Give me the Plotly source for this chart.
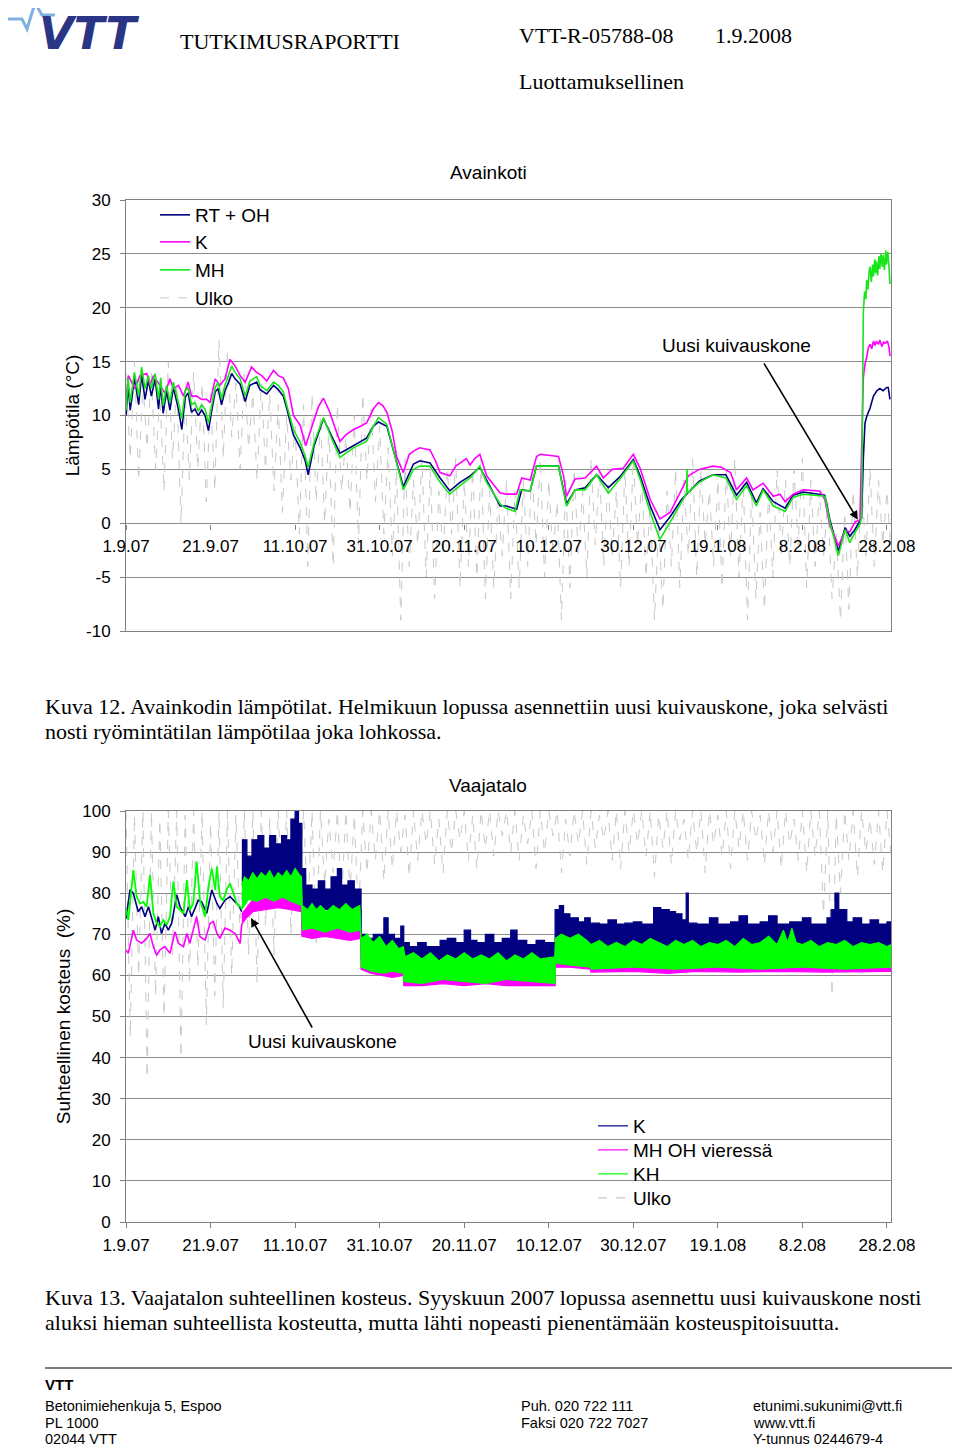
import plotly.graph_objects as go

# page is shown with the browser's 8px body margin: positions are shifted by that offset
OFF = 8
W, H = 960, 1446
def px(x): return (x - OFF) / W
def py(y): return 1 - (y - OFF) / H

SANS = "Liberation Sans, Arial, sans-serif"
SERIF = "Liberation Serif, Times New Roman, serif"

# ---------------- shared x axis (days since 1.9.2007) ----------------
tick_days = [0, 20, 40, 60, 80, 100, 120, 140, 160, 180]
tick_labels = ["1.9.07", "21.9.07", "11.10.07", "31.10.07", "20.11.07",
               "10.12.07", "30.12.07", "19.1.08", "8.2.08", "28.2.08"]
temp_ticks = [-10, -5, 0, 5, 10, 15, 20, 25, 30]
temp_tick_text = ["-10", "-5", "0", "5", "10", "15", "20", "25", "30"]

# ---------------- Chart 1: Avainkoti temperatures ----------------
rt_days = [0, 0.5, 1, 2, 3, 3.7, 4.5, 5.3, 6, 6.9, 7.7, 8.2, 8.8, 9.6, 10.4, 11.2, 12.4, 13.2, 14, 14.7,
           15.5, 16.3, 17.1, 17.9, 18.7, 19.5, 20.3, 21.1, 21.8, 22.6, 23.4, 24.2, 25, 25.8, 27, 28.2,
           29.3, 30.9, 31.7, 33.3, 34.9, 36, 37.2, 38, 39.6, 41.2, 42.4, 43.1, 44.5, 46.7, 48.5, 50.6,
           52, 53.8, 56.9, 58.5, 59.7, 61.7, 64, 65.6, 68, 69.5, 71.9, 74.3, 76.6, 79, 81.4, 83.7, 85.3,
           88.5, 90, 92.4, 93.6, 95.6, 97.1, 102.3, 104.2, 106.2, 108.6, 111.3, 114.1, 116.8, 120, 121.6,
           124, 126.3, 128.7, 131.4, 135.6, 138.8, 141.9, 144.4, 146.8, 149.1, 150.7, 153.1, 155.9, 157.8,
           160.2, 165.3, 166.5, 168.5, 170.1, 171.2, 172.4, 173.6, 174.0, 174.4, 174.8, 175.2, 176.0,
           176.8, 177.6, 178.3, 179.1, 179.9, 180.3, 180.7]
rt_vals = [10, 12.8, 10.5, 13.5, 11.0, 13.8, 11.5, 13.3, 11.8, 13.4, 10.6, 12.8, 10.2, 12.3, 10.5, 12.6, 10.6, 8.7, 11.7, 12.1,
           10.3, 10.6, 10.0, 10.5, 10.0, 8.6, 10.5, 12.2, 12.5, 11.0, 12.3, 13.0, 13.9, 13.4, 12.9, 11.3,
           12.8, 13.1, 12.4, 12.0, 12.8, 12.4, 11.8, 10.7, 8.2, 7.0, 5.8, 4.5, 7.2, 9.7, 8.2, 6.5,
           6.8, 7.2, 7.9, 9.0, 9.4, 9.0, 5.8, 3.4, 5.5, 5.8, 5.6, 4.2, 3.0, 3.8, 4.4, 5.2, 4.0,
           1.6, 1.6, 1.3, 3.1, 3.0, 5.3, 5.3, 1.8, 3.1, 3.3, 4.5, 3.3, 4.3, 5.9, 4.4,
           1.6, -0.6, 0.6, 2.2, 3.9, 4.5, 4.5, 2.6, 3.8, 1.9, 3.2, 2.0, 1.4, 2.6,
           2.9, 2.6, 0.3, -2.6, -0.4, -1.2, -0.6, 0.2, 0.5, 6.0, 9.3, 9.9, 10.7,
           11.8, 12.3, 12.5, 12.3, 12.6, 12.6, 11.5]

k_days = [0, 0.55, 2.1, 3.3, 4.9, 5.7, 6.5, 8, 9.2, 10.4, 11.2, 12.4, 13.6, 14.7, 15.5, 16.7, 17.9, 19.1,
          19.9, 21.1, 22.2, 23.4, 24.6, 25.8, 27, 28.2, 29.7, 30.9, 32.1, 33.3, 34.9, 36, 37.2, 38.4, 39.6,
          41.2, 42.5, 44, 45.5, 46.7, 48, 49.5, 50.6, 52, 53.8, 55.5, 56.9, 58.5, 59.7, 60.8, 61.7, 63, 64,
          65.6, 67, 68, 69.5, 71.9, 73.2, 74.3, 76.6, 78, 79, 80.5, 81.4, 82.5, 83.7, 85.3, 86.5, 88.5, 90,
          92.4, 93.6, 95.6, 97.1, 98, 102.3, 103.5, 104.2, 106.2, 108.6, 111.3, 112.9, 115, 117.6, 120, 121.6,
          124, 126.3, 128.7, 131.4, 133, 135.6, 138.8, 140.8, 143, 144.4, 146.8, 148.3, 150.7, 153.1, 154.7,
          155.9, 157.8, 160.2, 164.1, 165.3, 166.5, 168.5, 170.1, 171.2, 172.4, 173.6, 174.0, 174.4, 174.8,
          175.2, 175.6, 176, 176.4, 176.8, 177.2, 177.5, 178, 178.3, 178.8, 179.2, 179.6, 180.1, 180.5, 180.7]
k_vals = [11.5, 13.7, 12.5, 13.7, 13.9, 12.8, 13.7, 12.8, 12.1, 13.4, 12.5, 12.8, 11.8, 13.1, 11.8, 11.8, 11.5, 11.5,
          11.2, 13.4, 12.8, 13.4, 15.2, 14.6, 13.7, 13.1, 14.5, 14.0, 13.7, 13.2, 14.2, 13.7, 13.5, 12.5, 10.0,
          9.1, 7.2, 9.0, 10.8, 11.6, 10.5, 8.8, 7.6, 8.2, 8.7, 9.0, 9.3, 10.6, 11.2, 10.9, 10.3, 8.5, 6.2,
          4.7, 6.4, 6.7, 7.0, 6.8, 5.8, 4.7, 4.4, 5.3, 5.6, 6.0, 5.4, 6.0, 6.4, 4.4, 3.8, 2.8, 2.7,
          2.7, 4.2, 4.0, 6.2, 6.4, 6.2, 4.4, 2.5, 4.1, 4.2, 5.3, 4.2, 5.0, 5.1, 6.4, 5.1,
          2.2, 0.4, 1.0, 3.1, 4.4, 5.0, 5.3, 5.2, 4.7, 3.1, 4.2, 3.1, 3.7, 2.5, 2.7,
          2.0, 2.7, 3.1, 3.0, 2.2, -0.2, -2.1, -0.7, -0.8, 0.1, 0.3, 8.0, 13.5, 14.8,
          15.4, 16.3, 16.6, 16.2, 16.9, 16.5, 16.9, 16.6, 17.0, 16.4, 16.8, 16.7, 16.9, 16.3, 15.5]

mh_days = [0, 0.5, 1, 2, 3, 3.7, 4.5, 5.3, 6, 6.9, 7.7, 8.2, 8.8, 9.6, 10.4, 11.2, 12.4, 13.2, 14, 14.7,
           15.5, 16.3, 17.1, 17.9, 18.7, 19.5, 20.3, 21.1, 21.8, 22.6, 23.4, 24.2, 25, 25.8, 27, 28.2,
           29.3, 30.9, 31.7, 33.3, 34.9, 36, 37.2, 38, 39.6, 41.2, 42.4, 43.1, 44.5, 46.7, 48.5, 50.6,
           52, 53.8, 56.9, 58.5, 59.7, 61.7, 64, 65.6, 68, 69.5, 71.9, 74.3, 76.6, 79, 81.4, 83.7, 85.3,
           88.5, 89.6, 92, 93.2, 95.6, 97.1, 102.3, 104.2, 106.2, 108.6, 111.3, 114.1, 116.8, 120, 121.6,
           124, 126.3, 128.7, 131.4, 132.6, 132.7, 132.8, 135.6, 138.8, 141.9, 144.4, 146.8, 149.1, 150.7,
           153.1, 155.9, 157.8, 160.2, 165.3, 166.5, 168.5, 170.1, 171.2, 172.4, 173.6, 174.0, 174.4, 174.7,
           175.0, 175.2, 175.5, 175.8, 176, 176.3, 176.6, 176.8, 177.1, 177.3, 177.5, 177.8, 178.1, 178.3,
           178.6, 178.9, 179.1, 179.4, 179.7, 179.9, 180.2, 180.5, 180.7]
mh_vals = [10.5, 13.5, 11.2, 14.0, 11.8, 14.5, 12.5, 13.7, 12.5, 13.9, 11.5, 13.5, 10.9, 12.8, 11.2, 13.1, 11.2, 9.7, 12.3, 12.6,
           11.0, 11.2, 10.4, 11.0, 10.6, 9.3, 11.0, 12.6, 13.1, 11.5, 12.8, 13.7, 14.6, 14.0, 13.4, 11.8,
           13.2, 13.6, 12.8, 12.3, 13.1, 12.8, 12.2, 11.0, 8.7, 7.5, 6.2, 5.2, 7.5, 9.8, 8.0, 6.1,
           6.5, 7.0, 7.6, 9.0, 9.8, 9.2, 5.6, 3.1, 5.0, 5.3, 5.3, 3.8, 2.7, 3.5, 4.2, 5.3, 3.8,
           1.8, 1.45, 1.1, 3.1, 3.0, 5.3, 5.3, 1.6, 3.1, 3.1, 4.5, 2.8, 4.1, 5.8, 4.1,
           1.0, -1.5, 0.1, 1.9, 2.8, 5.0, 2.8, 3.8, 4.5, 4.2, 2.2, 3.5, 1.6, 3.1,
           1.6, 1.1, 2.4, 2.7, 2.5, 0.1, -3.0, -0.6, -1.8, -0.9, -0.1, 0.5, 19.5, 21.5,
           20.8, 22.6, 21.7, 23.5, 23.8, 22.4, 24.0, 22.9, 24.5, 23.2, 24.3, 23.0, 24.8, 23.6,
           25.0, 23.8, 24.9, 23.5, 25.3, 24.0, 25.2, 23.7, 22.2]

# outdoor temperature: daily maximum / minimum for every second day
ulko_t_max = [14, 15, 13, 14, 12, 15, 13, 12, 14, 13, 12, 17, 16, 13, 14, 12,
              13, 12, 11, 10, 9, 11, 12, 10, 9, 11, 8, 10, 12, 11, 9,
              7, 5, 6, 4, 6, 5, 3, 5, 6, 4, 5, 6, 3, 2, 4,
              3, 4, 5, 6, 4, 2, 4, 5, 3, 6, 5, 4, 3, 5, 6,
              4, 2, 0, 3, 5, 4, 6, 5, 3, 4, 5, 6, 4, 3, 1,
              3, 5, 4, 5, 6, 4, 3, 2, -1, 1, 3, 4, 5, 4, 3]
ulko_t_min = [6, 4, 7, 5, 3, 6, 0, 4, 5, 2, 3, 6, 8, 5, 7, 4,
              5, 3, 1, 4, -1, -4, 2, 0, -4, 3, 1, -2, 4, 2, -1,
              -3, -9, -4, -2, -5, -7, -3, -1, -6, -4, -5, -7, -6, -3, -7,
              -6, -4, -2, -5, -3, -9, -6, -3, -5, -2, -4, -3, -6, -4, -2,
              -5, -9, -8, -4, -6, -3, -5, -2, -4, -6, -3, -5, -9, -7, -8,
              -5, -3, -4, -2, -6, -4, -3, -7, -9, -8, -5, -3, -4, -2, -3]

# ---------------- Chart 2: Vaajatalo relative humidity ----------------
# September: single lines
k2_sep_days = [0, 0.95, 1.73, 2.9, 3.7, 4.5, 5.3, 6.1, 6.9, 7.65, 8.4, 9.2, 10.0, 10.8, 12.0, 12.8, 14.0, 14.8,
               15.5, 17.1, 17.9, 19.1, 20.3, 21.5, 22.2, 23.4, 24.6, 25.8, 26.6, 27.4]
k2_sep_vals = [73.8, 80.8, 80.0, 75.5, 76.7, 74.3, 76.7, 73.5, 71.0, 74.3, 70.2, 72.7, 71.0, 72.7, 79.6, 76.7, 74.3, 76.7,
               74.3, 78.3, 77.9, 75.1, 80.8, 77.5, 76.3, 78.3, 79.2, 77.9, 77.1, 75.5]
mh2_sep_days = [0, 0.55, 1.73, 2.52, 3.7, 4.89, 5.68, 6.47, 7.25, 8.04, 9.2, 10.4, 11.6, 12.4, 13.6, 14.4, 15.1,
                16.7, 17.5, 18.7, 19.9, 20.7, 21.5, 22.2, 23.4, 24.6, 25.8, 27.0, 27.4]
mh2_sep_vals = [66.2, 65.4, 71.0, 68.6, 67.8, 69.0, 70.2, 67.0, 64.9, 66.2, 67.0, 65.4, 70.6, 67.8, 67.0, 70.2, 67.8,
                74.3, 69.4, 68.6, 72.7, 73.1, 70.2, 69.0, 71.5, 71.0, 70.2, 67.8, 72.5]
kh_sep_days = [0, 0.55, 1.73, 2.52, 3.31, 4.1, 4.89, 5.68, 6.47, 7.25, 8.04, 8.83, 9.62, 10.4, 11.2, 12.0, 12.8,
               13.6, 14.4, 15.1, 15.9, 16.7, 17.5, 18.7, 19.5, 20.3, 21.1, 21.5, 22.2, 23.0, 23.8, 24.6, 25.4,
               26.2, 27.0, 27.4]
kh_sep_vals = [76.3, 73.5, 85.6, 79.2, 77.5, 77.9, 76.7, 84.4, 75.1, 72.7, 71.9, 73.5, 72.3, 74.3, 82.8, 76.7, 75.9,
               75.1, 83.2, 75.9, 77.5, 87.7, 78.3, 74.3, 81.6, 86.0, 80.8, 86.5, 79.2, 78.3, 80.8, 82.4, 80.0,
               77.5, 76.7, 76.3]

# From end of September: fast-varying signals read as lower / upper envelopes
k2_hi_days = [27.4, 28.6, 29.8, 31.2, 32.6, 34, 35.4, 36.8, 38, 39, 40, 40.8, 41.6, 42.5, 44, 45.5, 47, 48.5,
              50, 51, 52.5, 54, 55.6, 57, 58.5, 60, 61, 62, 63.5, 65, 65.7, 67, 69, 71, 73, 74.3, 76, 78, 80,
              81.5, 83, 85, 87, 89, 91, 92.5, 94.8, 97, 99, 101.5, 102.5, 103.5, 105, 107, 108.5, 109.8, 112,
              114, 116, 118, 120, 122, 124.8, 126.5, 128.5, 130, 131.5, 132.5, 133, 135, 138, 140, 143, 145,
              147, 150, 152, 154, 157, 160, 162, 165.8, 166.8, 167.7, 168.6, 170.5, 172, 174, 176, 178, 180, 181]
k2_hi_vals = [93, 89, 93, 94, 91, 94, 92, 94, 93, 98, 100, 97, 86, 82, 81, 83, 81, 84,
              86, 82, 83, 81, 70, 69, 70, 70, 74, 70, 69, 72, 68, 67, 68, 67, 67, 68.5, 69, 68, 71,
              68.5, 68, 70, 68, 69, 71, 68.5, 67.5, 68.5, 68, 76, 77, 75, 74, 73, 74, 72.7, 72.5,
              73.5, 72.5, 72.7, 73, 72.5, 76.5, 76, 75.5, 75, 73.5, 80, 72.7, 72.5, 74, 72.5, 73, 74.5,
              72.5, 73, 74.5, 72.5, 73, 74, 72.5, 74, 76, 80, 76, 73, 74, 72.5, 73.5, 72.5, 73, 72.5]
k2_lo_days = [27.4, 41.5, 41.6, 55.5, 55.6, 65.6, 65.7, 101.5, 101.6, 181]
k2_lo_vals = [82, 82, 76, 76, 66, 66, 63, 63, 66, 66]

mh2_hi_days = [27.4, 30, 35, 41.5, 41.6, 55.5, 55.6, 65.6, 65.7, 101.5, 101.6, 181]
mh2_hi_vals = [75, 78.5, 79, 79, 72, 72, 64, 63, 61, 61, 65, 64.5]
mh2_lo_days = [27.4, 28.5, 30, 33, 36, 39, 41.5, 41.6, 44, 47, 50, 53, 55.5, 55.6, 58, 61, 63, 65.6, 65.7,
               70, 75, 80, 85, 90, 95, 101.5, 101.6, 105, 109.8, 110, 120, 128, 135, 145, 155, 165, 181]
mh2_lo_vals = [72.5, 74, 75.5, 76, 76.5, 76, 75.5, 69.5, 69, 69.5, 69, 68.5, 69, 61.5, 60.5, 60, 59.5, 60, 57.5,
               57.5, 58, 57.5, 58, 57.5, 57.5, 57.5, 62, 62, 61.5, 60.8, 61, 60.5, 61, 60.8, 61, 60.8, 61]

kh_hi_days = [27.4, 28, 29, 30, 31, 32, 33, 34, 35, 36, 37, 38, 39, 40, 41, 41.5, 41.7, 43, 44, 45, 46, 47.5,
              49, 50.5, 52, 53.5, 55.3, 55.6, 57, 58.5, 60, 61.5, 63, 64.5, 65.6, 66, 68, 70, 72, 74, 76, 78,
              80, 82, 84, 86, 88, 90, 92, 94, 96, 98, 101.4, 101.6, 103, 105, 107, 109, 110, 112, 114, 116,
              118, 120, 122, 124, 126, 128, 130, 132, 134, 136, 138, 140, 142, 144, 146, 148, 150, 152, 154,
              155.5, 156.5, 157.5, 158.5, 160, 162, 164, 166, 168, 170, 172, 174, 176, 178, 180, 181]
kh_hi_vals = [82, 84, 83, 85, 83.5, 85, 84, 85.5, 83.5, 85, 84, 85.5, 84, 86, 84.5, 84, 77, 76, 77.5, 76, 77, 75.5,
              77, 76, 77.5, 76, 77, 69, 70, 68, 69.5, 67, 68.5, 66.5, 67, 64.5, 65.5, 64, 65.5, 63.5, 65, 64,
              65.5, 64, 65, 64, 65.5, 63.5, 65, 64, 65.5, 64, 64.5, 69, 70, 69, 70, 68.5, 67.5, 68.5, 67, 68,
              67, 68.5, 67.5, 69, 68, 67, 68.5, 67.5, 68.5, 67, 68, 67.5, 68.5, 67, 69, 67.5, 68, 69.5, 67.5,
              71, 68, 71.5, 68, 67.5, 68.5, 67, 68, 67.5, 68.5, 67, 68, 67.5, 68, 67, 67.5]
kh_lo_days = [27.4, 29, 31, 33, 35, 37, 39, 41.5, 41.7, 44, 47, 50, 53, 55.5, 55.6, 58, 61, 63, 65.6, 65.7,
              70, 75, 80, 85, 90, 95, 101.5, 101.6, 105, 109.8, 110, 120, 130, 140, 150, 160, 170, 181]
kh_lo_vals = [76, 78.5, 78, 79, 78, 79, 78, 77, 71, 71.5, 70.5, 71.5, 70.5, 71, 62, 61, 60.5, 61, 60.5, 58.5,
              58, 59, 58.5, 58, 59, 58.5, 58, 63, 62.5, 62, 61.5, 62, 61.5, 62, 61.5, 62, 61.5, 62]

# outdoor RH: daily maximum / minimum for every second day
ulko_rh_max = [100, 99, 100, 100, 98, 100, 100, 99, 100, 100, 97, 100, 100, 99, 100, 100,
               100, 98, 100, 100, 99, 100, 100, 100, 98, 100, 100, 99, 100, 100, 100,
               100, 100, 99, 100, 100, 100, 98, 100, 100, 100, 99, 100, 100, 100, 100,
               100, 99, 100, 100, 100, 100, 98, 100, 100, 100, 99, 100, 100, 100, 100,
               100, 100, 99, 100, 100, 98, 100, 100, 100, 99, 100, 100, 100, 100, 99,
               100, 100, 100, 98, 100, 100, 100, 100, 99, 100, 100, 100, 98, 100, 100]
ulko_rh_min = [45, 60, 35, 55, 50, 65, 40, 58, 62, 48, 55, 52, 60, 70, 65, 58,
               72, 65, 78, 70, 80, 75, 68, 82, 85, 78, 80, 74, 85, 88, 83,
               86, 90, 84, 88, 92, 87, 85, 90, 93, 88, 86, 91, 89, 94, 90,
               88, 92, 86, 90, 94, 85, 89, 92, 87, 91, 93, 88, 86, 90, 92,
               89, 84, 91, 87, 93, 88, 90, 85, 92, 89, 86, 91, 88, 93, 87,
               90, 86, 92, 88, 85, 89, 75, 55, 80, 88, 84, 90, 87, 85, 89]

# ---------------- styles ----------------
NAVY = "#000080"
MAG = "#ff00ff"
GRN1 = "#19e619"
GRN2 = "#00ff00"
GRAY = "#c8c8c8"
GRID = "#8c8c8c"


def daily_pairs(mx, mn):
    xs, ys = [], []
    for k, (a, b) in enumerate(zip(mx, mn)):
        xs += [2 * k, 2 * k + 1]
        ys += [a, b]
    return xs, ys


fig = go.Figure()

# ---- top chart traces ----
ux, uy = daily_pairs(ulko_t_max, ulko_t_min)
fig.add_trace(go.Scatter(x=ux, y=uy, mode="lines", name="Ulko",
                         line=dict(color=GRAY, width=1, dash="dash"), xaxis="x", yaxis="y", legend="legend4"))
fig.add_trace(go.Scatter(x=rt_days, y=rt_vals, mode="lines", name="RT + OH",
                         line=dict(color=NAVY, width=1.6), xaxis="x", yaxis="y", legend="legend"))
fig.add_trace(go.Scatter(x=k_days, y=k_vals, mode="lines", name="K",
                         line=dict(color=MAG, width=1.6), xaxis="x", yaxis="y", legend="legend2"))
fig.add_trace(go.Scatter(x=mh_days, y=mh_vals, mode="lines", name="MH",
                         line=dict(color=GRN1, width=1.6), xaxis="x", yaxis="y", legend="legend3"))
# trace carrying the tick-label axis that crosses at 0
fig.add_trace(go.Scatter(x=[None], y=[None], mode="lines", showlegend=False, xaxis="x3", yaxis="y",
                         hoverinfo="skip"))

# ---- bottom chart traces ----
rx, ry = daily_pairs(ulko_rh_max, ulko_rh_min)
fig.add_trace(go.Scatter(x=rx, y=ry, mode="lines", showlegend=False,
                         line=dict(color=GRAY, width=1, dash="dash"), xaxis="x2", yaxis="y2"))
# K
fig.add_trace(go.Scatter(x=k2_sep_days, y=k2_sep_vals, mode="lines", showlegend=False,
                         line=dict(color=NAVY, width=1.6), xaxis="x2", yaxis="y2"))
fig.add_trace(go.Scatter(x=k2_lo_days, y=k2_lo_vals, mode="lines", showlegend=False, line_shape="hv",
                         line=dict(color=NAVY, width=1), xaxis="x2", yaxis="y2"))
fig.add_trace(go.Scatter(x=k2_hi_days, y=k2_hi_vals, mode="lines", showlegend=False, line_shape="hv",
                         fill="tonexty", fillcolor=NAVY,
                         line=dict(color=NAVY, width=1.2), xaxis="x2", yaxis="y2"))
# MH OH vieressä
fig.add_trace(go.Scatter(x=mh2_sep_days, y=mh2_sep_vals, mode="lines", showlegend=False,
                         line=dict(color=MAG, width=1.6), xaxis="x2", yaxis="y2"))
fig.add_trace(go.Scatter(x=mh2_lo_days, y=mh2_lo_vals, mode="lines", showlegend=False,
                         line=dict(color=MAG, width=1.2), xaxis="x2", yaxis="y2"))
fig.add_trace(go.Scatter(x=mh2_hi_days, y=mh2_hi_vals, mode="lines", showlegend=False,
                         fill="tonexty", fillcolor=MAG,
                         line=dict(color=MAG, width=1), xaxis="x2", yaxis="y2"))
# KH
fig.add_trace(go.Scatter(x=kh_sep_days, y=kh_sep_vals, mode="lines", showlegend=False,
                         line=dict(color=GRN2, width=1.8), xaxis="x2", yaxis="y2"))
fig.add_trace(go.Scatter(x=kh_lo_days, y=kh_lo_vals, mode="lines", showlegend=False,
                         line=dict(color=GRN2, width=1), xaxis="x2", yaxis="y2"))
fig.add_trace(go.Scatter(x=kh_hi_days, y=kh_hi_vals, mode="lines", showlegend=False,
                         fill="tonexty", fillcolor=GRN2,
                         line=dict(color=GRN2, width=1.2), xaxis="x2", yaxis="y2"))

# legend entries for the bottom chart (one legend per entry to control spacing)
for name, col, dash, lg in [("K", NAVY, "solid", "legend5"), ("MH OH vieressä", MAG, "solid", "legend6"),
                            ("KH", GRN2, "solid", "legend7"), ("Ulko", GRAY, "dash", "legend8")]:
    fig.add_trace(go.Scatter(x=[None], y=[None], mode="lines", name=name,
                             line=dict(color=col, width=1.2, dash=dash),
                             xaxis="x2", yaxis="y2", legend=lg))

X_DOM = [px(126), px(891)]
X_RANGE = [0, 180.95]
p_zero = py(523.5)

axis_common = dict(showline=True, linecolor="#808080", linewidth=1, mirror=True, zeroline=False)


def leg(xp, yp):
    return dict(x=px(xp), y=py(yp), xanchor="left", yanchor="middle", bgcolor="rgba(0,0,0,0)",
                font=dict(size=19), borderwidth=0)


fig.update_layout(
    width=W, height=H, autosize=False,
    margin=dict(l=0, r=0, t=0, b=0, pad=0, autoexpand=False),
    paper_bgcolor="white", plot_bgcolor="white",
    font=dict(family=SANS, size=17, color="black"),
    xaxis=dict(domain=X_DOM, range=X_RANGE, anchor="y", showgrid=False, showticklabels=False,
               ticks="", **axis_common),
    xaxis3=dict(range=X_RANGE, overlaying="x", anchor="free", position=p_zero,
                tickmode="array", tickvals=tick_days, ticktext=tick_labels,
                ticks="outside", ticklen=5, tickcolor="#808080", showgrid=False, showline=False,
                zeroline=False, ticklabelstandoff=2, tickfont=dict(size=17)),
    yaxis=dict(domain=[py(631), py(200)], range=[-10, 30], tickmode="array", tickvals=temp_ticks,
               ticktext=temp_tick_text, anchor="x",
               showgrid=True, gridcolor=GRID, gridwidth=1, ticks="outside", ticklen=5,
               tickcolor="#808080", ticklabelstandoff=6, tickfont=dict(size=17),
               title=dict(text="Lämpötila (°C)", font=dict(size=19), standoff=1),
               **axis_common),
    xaxis2=dict(domain=X_DOM, range=X_RANGE, anchor="y2", showgrid=False,
                tickmode="array", tickvals=tick_days, ticktext=tick_labels,
                ticks="outside", ticklen=5, tickcolor="#808080", ticklabelstandoff=3,
                tickfont=dict(size=17), **axis_common),
    yaxis2=dict(domain=[py(1222), py(811)], range=[0, 100], dtick=10, anchor="x2",
                showgrid=True, gridcolor=GRID, gridwidth=1, ticks="outside", ticklen=5,
                tickcolor="#808080", ticklabelstandoff=6, tickfont=dict(size=17),
                title=dict(text="Suhteellinen kosteus  (%)", font=dict(size=19), standoff=6),
                **axis_common),
    legend=leg(155, 215), legend2=leg(155, 242), legend3=leg(155, 270), legend4=leg(155, 298),
    legend5=leg(593, 1126), legend6=leg(593, 1150), legend7=leg(593, 1174), legend8=leg(593, 1198),
    showlegend=True,
)

# white boxes behind the legends (hide the gridlines like the original)
fig.add_shape(type="rect", xref="paper", yref="paper", x0=px(127), x1=px(295), y0=py(316), y1=py(201),
              fillcolor="white", line=dict(width=0), layer="between")
fig.add_shape(type="rect", xref="paper", yref="paper", x0=px(592), x1=px(807), y0=py(1214), y1=py(1106),
              fillcolor="white", line=dict(width=0), layer="between")

# ---- chart titles and arrows ----
fig.add_annotation(x=px(488), y=py(172), xref="paper", yref="paper", text="Avainkoti", showarrow=False,
                   font=dict(size=19), xanchor="center", yanchor="middle")
fig.add_annotation(x=px(488), y=py(785), xref="paper", yref="paper", text="Vaajatalo", showarrow=False,
                   font=dict(size=19), xanchor="center", yanchor="middle")

fig.add_annotation(x=144.5, y=16.47, xref="x", yref="y", text="Uusi kuivauskone", showarrow=False,
                   font=dict(size=19), xanchor="center", yanchor="middle")
fig.add_annotation(x=173.1, y=0.32, ax=150.7, ay=14.98, xref="x", yref="y", axref="x", ayref="y",
                   text="", showarrow=True, arrowhead=2, arrowsize=1.1, arrowwidth=1.6, arrowcolor="black",
                   standoff=0, startstandoff=0)
fig.add_annotation(x=46.36, y=43.8, xref="x2", yref="y2", text="Uusi kuivauskone", showarrow=False,
                   font=dict(size=19), xanchor="center", yanchor="middle")
fig.add_annotation(x=29.56, y=73.97, ax=44.23, ay=46.96, xref="x2", yref="y2", axref="x2", ayref="y2",
                   text="", showarrow=True, arrowhead=2, arrowsize=1.1, arrowwidth=1.6, arrowcolor="black",
                   standoff=0, startstandoff=0)

# ---- page header ----
fig.add_shape(type="path", xref="paper", yref="paper",
              path=f"M {px(8)} {py(19)} L {px(22)} {py(19)} L {px(27)} {py(29)} L {px(35)} {py(3)} "
                   f"L {px(42)} {py(15)} L {px(55)} {py(15)}",
              line=dict(color="#7fb0e0", width=3))
fig.add_annotation(x=px(37), y=py(33), xref="paper", yref="paper", text="<b><i>VTT</i></b>",
                   showarrow=False, xanchor="left", yanchor="middle",
                   font=dict(family="DejaVu Sans", size=45, color="#2b3585"))
hdr = [("TUTKIMUSRAPORTTI", 178, 41), ("VTT-R-05788-08", 517, 35), ("1.9.2008", 713, 35),
       ("Luottamuksellinen", 517, 81)]
for t, x, y in hdr:
    fig.add_annotation(x=px(x), y=py(y), xref="paper", yref="paper", text=t, showarrow=False,
                       xanchor="left", yanchor="middle", font=dict(family=SERIF, size=22))

# ---- captions ----
caps = [("Kuva 12. Avainkodin lämpötilat. Helmikuun lopussa asennettiin uusi kuivauskone, joka selvästi", 706),
        ("nosti ryömintätilan lämpötilaa joka lohkossa.", 731),
        ("Kuva 13. Vaajatalon suhteellinen kosteus. Syyskuun 2007 lopussa asennettu uusi kuivauskone nosti", 1297),
        ("aluksi hieman suhteellista kosteutta, mutta lähti nopeasti pienentämään kosteuspitoisuutta.", 1322)]
for t, y in caps:
    fig.add_annotation(x=px(43), y=py(y), xref="paper", yref="paper", text=t, showarrow=False,
                       xanchor="left", yanchor="middle", font=dict(family=SERIF, size=22))

# ---- footer ----
fig.add_shape(type="line", xref="paper", yref="paper", x0=px(45), x1=px(968), y0=py(1368), y1=py(1368),
              line=dict(color="#555555", width=1.5))
fig.add_annotation(x=px(43), y=py(1384), xref="paper", yref="paper", text="<b>VTT</b>", showarrow=False,
                   xanchor="left", yanchor="middle", font=dict(family=SANS, size=15))
foot = [("Betonimiehenkuja 5, Espoo", 43, 1406), ("PL 1000", 43, 1423), ("02044 VTT", 43, 1439),
        ("Puh. 020 722 111", 519, 1406), ("Faksi 020 722 7027", 519, 1423),
        ("etunimi.sukunimi@vtt.fi", 751, 1406), ("www.vtt.fi", 751, 1423), ("Y-tunnus 0244679-4", 751, 1439)]
for t, x, y in foot:
    fig.add_annotation(x=px(x), y=py(y), xref="paper", yref="paper", text=t, showarrow=False,
                       xanchor="left", yanchor="middle", font=dict(family=SANS, size=14.5))

fig.write_html("out.html")
